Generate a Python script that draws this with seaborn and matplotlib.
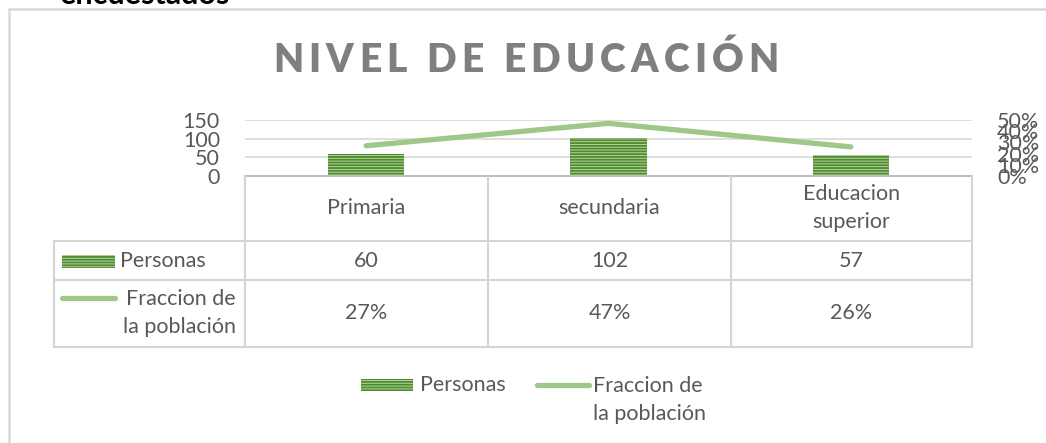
import numpy as np
import matplotlib
matplotlib.use("Agg")
import matplotlib.pyplot as plt
from matplotlib.lines import Line2D
from matplotlib.patches import Rectangle
import seaborn as sns

# data
categorias = ["Primaria", "secundaria", "Educacion\nsuperior"]
personas = [60, 102, 57]
fraccion = [0.27, 0.47, 0.26]
serie_barras = "Personas"
serie_linea = "Fraccion de\nla población"
titulo = "NIVEL DE EDUCACIÓN"
yticks_izq = [0, 50, 100, 150]
yticks_der = [0, 0.1, 0.2, 0.3, 0.4, 0.5]

sns.set_theme(style="white")
plt.rcParams["font.family"] = ["Lato", "DejaVu Sans"]
plt.rcParams["hatch.linewidth"] = 1.3

W, H = 1046, 443
fig = plt.figure(figsize=(W / 100, H / 100), dpi=100)
fig.patch.set_facecolor("white")


def fx(px):
    return px / W


def fy(py):
    return 1 - py / H


txt_col = "#595959"
grid_col = "#D9D9D9"
bar_face = "#B4D69C"
bar_hatch = "#4F8A30"
line_col = "#9DC889"
fs = 15.5

# main plot area
ax = fig.add_axes([fx(245), fy(176), fx(972) - fx(245), (176 - 120) / H])
sns.barplot(x=list(range(len(categorias))), y=personas, ax=ax, color=bar_face,
            saturation=1, width=0.316, zorder=2)
for p in ax.patches:
    p.set_hatch("------")
    p.set_edgecolor(bar_hatch)
    p.set_linewidth(0)
ax.set_xlim(-0.5, len(categorias) - 0.5)
ax.set_ylim(0, 150)
ax.set_yticks(yticks_izq)
ax.set_xticks([])
ax.set_xlabel("")
ax.set_ylabel("")
ax.yaxis.grid(True, color=grid_col, lw=1.2, zorder=0)
ax.set_axisbelow(True)
for s in ["top", "right", "left"]:
    ax.spines[s].set_visible(False)
ax.spines["bottom"].set_color("#BFBFBF")
ax.spines["bottom"].set_linewidth(1.5)
ax.tick_params(axis="y", length=0, pad=18, labelsize=fs, labelcolor=txt_col)
ax.patch.set_alpha(0)

ax2 = ax.twinx()
sns.lineplot(x=list(range(len(categorias))), y=fraccion, ax=ax2, color=line_col,
             lw=3.8, solid_capstyle="round")
ax2.set_ylim(0, 0.5)
ax2.set_yticks(yticks_der)
ax2.set_yticklabels([f"{v:.0%}" for v in yticks_der])
ax2.tick_params(axis="y", length=0, pad=18, labelsize=fs, labelcolor=txt_col)
for s in ax2.spines.values():
    s.set_visible(False)
ax2.set_xlim(-0.5, len(categorias) - 0.5)

# title with letter spacing
renderer = fig.canvas.get_renderer()
tkw = dict(fontsize=28, fontweight="heavy", color="#7F7F7F")


def char_w(ch):
    a = fig.text(0, 0, "X" + ch + "X", **tkw)
    b = fig.text(0, 0, "XX", **tkw)
    w = a.get_window_extent(renderer).width - b.get_window_extent(renderer).width
    a.remove()
    b.remove()
    return w


widths = [char_w(c) for c in titulo]
target = 779 - 273
gap = (target - sum(widths)) / (len(titulo) - 1)
x = 273
for c, w in zip(titulo, widths):
    fig.text(fx(x), fy(72), c, ha="left", va="baseline", **tkw)
    x += w + gap

# cut-off heading above the chart
fig.text(fx(60), fy(4.5), "encuestados", fontsize=22, fontweight="bold",
         color="black", va="baseline", ha="left")

# outer frame
fig.add_artist(Line2D([fx(9), fx(1046)], [fy(9), fy(9)], color=grid_col, lw=1.8))
fig.add_artist(Line2D([fx(9), fx(9)], [fy(9), fy(443)], color=grid_col, lw=1.8))

# data table
tab_col = "#D4D4D4"
col_x = [245, 488, 731, 972]
row_y = [176, 241, 280, 347]
for yy in row_y[1:]:
    fig.add_artist(Line2D([fx(54), fx(972)], [fy(yy), fy(yy)], color=tab_col, lw=1.5))
for xx in col_x:
    fig.add_artist(Line2D([fx(xx), fx(xx)], [fy(176), fy(347)], color=tab_col, lw=1.5))
fig.add_artist(Line2D([fx(54), fx(54)], [fy(241), fy(347)], color=tab_col, lw=1.5))

centers = [(col_x[i] + col_x[i + 1]) / 2 for i in range(3)]
for cx, cat, n, f in zip(centers, categorias, personas, fraccion):
    fig.text(fx(cx), fy(208), cat, ha="center", va="center", fontsize=fs,
             color=txt_col, linespacing=1.45)
    fig.text(fx(cx), fy(261), str(n), ha="center", va="center", fontsize=fs, color=txt_col)
    fig.text(fx(cx), fy(313), f"{f:.0%}", ha="center", va="center", fontsize=fs, color=txt_col)


def bar_key(x0, x1, y0, y1):
    fig.add_artist(Rectangle((fx(x0), fy(y1)), fx(x1) - fx(x0), (y1 - y0) / H,
                             facecolor=bar_face, edgecolor=bar_hatch, hatch="------",
                             lw=0, transform=fig.transFigure))


def line_key(x0, x1, y):
    fig.add_artist(Line2D([fx(x0), fx(x1)], [fy(y), fy(y)], color=line_col,
                          lw=3.8, solid_capstyle="round"))


bar_key(62, 115, 255, 268)
fig.text(fx(120), fy(261), serie_barras, ha="left", va="center", fontsize=fs, color=txt_col)
line_key(62, 115, 298)
fig.text(fx(236), fy(313), serie_linea, ha="right", va="center", fontsize=fs,
         color=txt_col, linespacing=1.45)

# legend
bar_key(361, 413, 379, 391)
fig.text(fx(420), fy(385), serie_barras, ha="left", va="center", fontsize=fs, color=txt_col)
line_key(537, 589, 385)
fig.text(fx(593), fy(400), serie_linea, ha="left", va="center", fontsize=fs,
         color=txt_col, linespacing=1.45)

fig.savefig("out.png", dpi=100, facecolor="white")
